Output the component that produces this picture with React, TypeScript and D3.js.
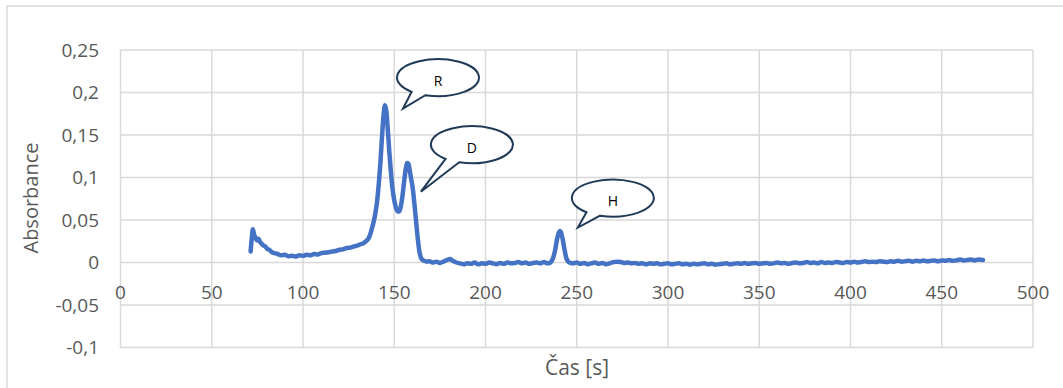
import * as d3 from 'd3'

// time [s]
const times = [
  71.3, 72.0, 72.5, 73.2, 74.0, 74.8, 75.6, 76.5, 77.4, 78.3, 79.3, 80.4, 81.6, 83, 84.5, 86, 88, 90, 92, 94,
  96, 98, 100, 102, 104, 106, 108, 110, 112, 114, 116, 118, 120, 122, 124, 126, 128, 130, 131.5, 133,
  134.5, 135.5, 136.5, 137.5, 138.5, 139.5, 140.5, 141.5, 142.5, 143.3, 144.1, 144.9, 145.7, 146.5, 147.3, 148.1, 149, 150, 151, 152,
  152.8, 153.6, 154.5, 155.4, 156.3, 157.1, 157.8, 158.5, 159.3, 160.1, 161, 161.9, 162.8, 163.7, 164.6, 165.5, 166.5, 167.7, 169, 171,
  173, 175, 177, 179, 180.5, 182, 184, 186, 188, 190, 192, 194, 196, 198, 200, 202, 204, 206, 208, 210,
  212, 214, 216, 218, 220, 222, 224, 226, 228, 230, 232, 234, 235.5, 236.8, 238, 239, 240, 240.8, 241.6, 242.5,
  243.4, 244.3, 245.3, 246.5, 248, 250, 252, 254, 256, 258, 260, 262, 264, 266, 268, 270, 272, 274, 276, 278,
  280, 282, 284, 286, 288, 290, 292, 294, 296, 298, 300, 302, 304, 306, 308, 310, 312, 314, 316, 318,
  320, 322, 324, 326, 328, 330, 332, 334, 336, 338, 340, 342, 344, 346, 348, 350, 352, 354, 356, 358,
  360, 362, 364, 366, 368, 370, 372, 374, 376, 378, 380, 382, 384, 386, 388, 390, 392, 394, 396, 398,
  400, 402, 404, 406, 408, 410, 412, 414, 416, 418, 420, 422, 424, 426, 428, 430, 432, 434, 436, 438,
  440, 442, 444, 446, 448, 450, 452, 454, 456, 458, 460, 462, 464, 466, 468, 470, 472.6
]

const absorbance = [
  0.013, 0.030, 0.039, 0.033, 0.029, 0.026, 0.028, 0.024, 0.022, 0.020, 0.019, 0.016, 0.015, 0.012, 0.011, 0.010, 0.0085, 0.0090, 0.0075, 0.0080,
  0.0070, 0.0085, 0.0078, 0.0090, 0.0085, 0.0100, 0.0095, 0.0110, 0.0115, 0.0120, 0.0130, 0.0135, 0.0150, 0.0155, 0.0170, 0.0175, 0.0190, 0.0200, 0.0215, 0.0225,
  0.025, 0.027, 0.031, 0.038, 0.046, 0.056, 0.070, 0.092, 0.120, 0.148, 0.172, 0.185, 0.178, 0.155, 0.130, 0.108, 0.088, 0.073, 0.064, 0.060,
  0.060, 0.066, 0.078, 0.095, 0.110, 0.117, 0.116, 0.108, 0.098, 0.088, 0.070, 0.050, 0.030, 0.014, 0.006, 0.003, 0.002, 0.001, 0.0015, 0.000,
  0.001, -0.0005, 0.001, 0.003, 0.004, 0.002, 0.000, -0.001, -0.002, -0.001, -0.0015, 0.000, -0.002, -0.001, -0.0015, 0.000, -0.001, -0.002, -0.0005, -0.0015,
  0.000, -0.001, -0.0005, 0.0005, -0.001, 0.000, -0.0015, -0.0005, 0.000, -0.001, 0.0005, -0.001, 0.000, 0.004, 0.013, 0.025, 0.034, 0.037, 0.034, 0.025,
  0.014, 0.005, 0.001, -0.0005, -0.001, 0.000, -0.0015, -0.0005, -0.002, -0.001, 0.000, -0.0015, -0.0005, -0.002, -0.001, 0.0005, 0.001, 0.0005, -0.0005, 0.000,
  -0.001, -0.0005, -0.0015, -0.001, -0.002, -0.001, -0.0015, -0.001, -0.002, -0.0015, -0.001, -0.002, -0.0015, -0.001, -0.002, -0.0015, -0.0025, -0.0015, -0.002, -0.0015,
  -0.001, -0.002, -0.0015, -0.0025, -0.002, -0.0015, -0.001, -0.002, -0.0015, -0.001, -0.0015, -0.0005, -0.0015, -0.001, -0.0005, -0.0015, -0.001, -0.0005, -0.0015, -0.001,
  0.000, -0.001, -0.0005, -0.0015, -0.0005, 0.000, -0.001, -0.0005, 0.0005, -0.0005, 0.000, -0.001, 0.0005, -0.0005, 0.000, -0.0005, 0.0005, 0.000, -0.0005, 0.0005,
  0.000, 0.001, 0.000, 0.0005, 0.0015, 0.0005, 0.001, 0.0005, 0.0015, 0.001, 0.0005, 0.0015, 0.001, 0.002, 0.001, 0.0015, 0.002, 0.001, 0.002, 0.0015,
  0.0025, 0.0015, 0.002, 0.0025, 0.0015, 0.0025, 0.002, 0.003, 0.002, 0.0025, 0.0035, 0.0025, 0.003, 0.0035, 0.0025, 0.0035, 0.003
]

const xTicks = [0, 50, 100, 150, 200, 250, 300, 350, 400, 450, 500]
const yTicks = [-0.1, -0.05, 0, 0.05, 0.1, 0.15, 0.2, 0.25]

// callout labels and where their tails point (data coords)
const calloutLabels = ['R', 'D', 'H']
const calloutTipT = [154.8, 164.6, 250.6]
const calloutTipA = [0.181, 0.0833, 0.0411]

const W = 1063
const H = 388
const FONT = '"Open Sans", "Noto Sans", sans-serif'

const x = d3.scaleLinear().domain([0, 500]).range([120.5, 1033])
const y = d3.scaleLinear().domain([-0.1, 0.25]).range([347.5, 50])

// bubble centre offsets from the tail tip, px
const bubbleDx = [35, 51, 35]
const bubbleDy = [-31, -47, -29.5]

const fmt = (v: number) => (Math.abs(v) < 1e-9 ? '0' : String(+v.toFixed(2)).replace('.', ','))

function calloutPath(cx: number, cy: number, rx: number, ry: number, tx: number, ty: number) {
  const rad = (deg: number) => (deg * Math.PI) / 180
  const p = (deg: number) => [cx + rx * Math.cos(rad(deg)), cy + ry * Math.sin(rad(deg))]
  const [ax, ay] = p(130)
  const [bx, by] = p(108)
  return `M${ax},${ay} A${rx},${ry} 0 1 1 ${bx},${by} L${tx},${ty} Z`
}

export default function App() {
  const points = times.map((t, i) => [t, absorbance[i]] as [number, number])
  const line = d3.line<[number, number]>()
    .x(d => x(d[0]))
    .y(d => y(d[1]))
    .curve(d3.curveMonotoneX)

  return (
    <svg width={W} height={H} style={{ position: 'absolute', left: 0, top: 0, display: 'block', background: '#fff' }}>
      <rect x={7} y={6} width={1200} height={500} fill="#fff" stroke="#D9D9D9" strokeWidth={1.5} />

      {/* grid */}
      {xTicks.map(t => (
        <line key={'gx' + t} x1={x(t)} x2={x(t)} y1={y(0.25)} y2={y(-0.1)} stroke="#D9D9D9" strokeWidth={1.5} />
      ))}
      {yTicks.map(t => (
        <line key={'gy' + t} x1={x(0)} x2={x(500)} y1={y(t)} y2={y(t)} stroke="#D9D9D9" strokeWidth={1.5} />
      ))}

      {/* y tick labels */}
      {yTicks.map(t => (
        <text key={'ty' + t} x={99} y={y(t)} dy="0.35em" textAnchor="end" fontFamily={FONT} fontSize={19} fill="#595959">
          {fmt(t)}
        </text>
      ))}

      {/* x tick labels next to the zero line */}
      {xTicks.map(t => (
        <text key={'tx' + t} x={x(t)} y={y(0) + 30} dy="0.35em" textAnchor="middle" fontFamily={FONT} fontSize={19} fill="#595959">
          {t}
        </text>
      ))}

      {/* series */}
      <path d={line(points) || ''} fill="none" stroke="#4472C4" strokeWidth={4.5} strokeLinejoin="round" strokeLinecap="round" />

      {/* callouts */}
      {calloutLabels.map((lab, i) => {
        const tx = x(calloutTipT[i])
        const ty = y(calloutTipA[i])
        const cx = tx + bubbleDx[i]
        const cy = ty + bubbleDy[i]
        return (
          <g key={lab}>
            <path d={calloutPath(cx, cy, 41, 18.5, tx, ty)} fill="#fff" stroke="#203A57" strokeWidth={2} strokeLinejoin="miter" />
            <text x={cx} y={cy + 3} dy="0.35em" textAnchor="middle" fontFamily={FONT} fontSize={14} fill="#000">
              {lab}
            </text>
          </g>
        )
      })}

      {/* axis titles */}
      <text x={577} y={368} dy="0.35em" textAnchor="middle" fontFamily={FONT} fontSize={21} fill="#595959">
        Čas [s]
      </text>
      <text transform="translate(31,198) rotate(-90)" dy="0.35em" textAnchor="middle" fontFamily={FONT} fontSize={20} fill="#595959">
        Absorbance
      </text>
    </svg>
  )
}
